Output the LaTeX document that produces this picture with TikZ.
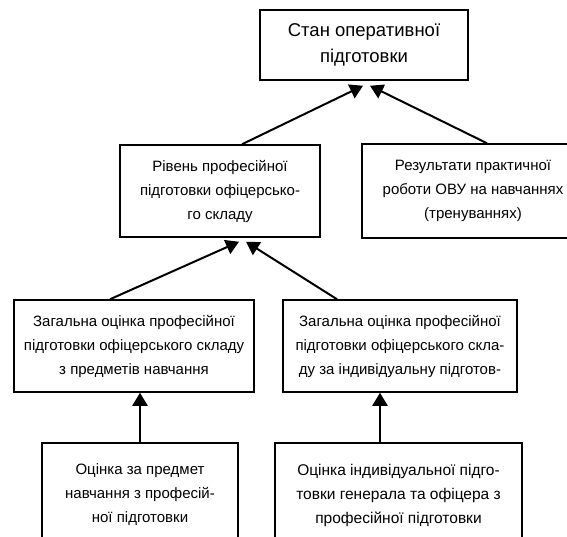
\documentclass[tikz,border=0pt]{standalone}
\usepackage{fontspec}
\setmainfont{Liberation Sans}
\usetikzlibrary{arrows.meta}
\begin{document}
\begin{tikzpicture}[x=1pt,y=-1pt,
  box/.style={draw, line width=1.5pt, align=center, inner sep=0pt, font=\fontsize{15}{24}\selectfont},
  conn/.style={line width=2pt, -{Triangle[length=13pt,width=15pt]}}]
\useasboundingbox (0,0) rectangle (567,537);
\node[box, minimum width=208pt, minimum height=70pt, font=\fontsize{18.5}{26}\selectfont] (top) at (364,45) {Стан оперативної\\підготовки};
\node[box, minimum width=200pt, minimum height=92pt] (midL) at (220,191) {Рівень професійної\\підготовки офіцерсько-\\го складу};
\node[box, minimum width=222pt, minimum height=94pt] (midR) at (473,191) {Результати практичної\\роботи ОВУ на навчаннях\\(тренуваннях)};
\node[box, minimum width=240pt, minimum height=92pt] (rowL) at (134,346) {Загальна оцінка професійної\\підготовки офіцерського складу\\з предметів навчання};
\node[box, minimum width=234pt, minimum height=92pt] (rowR) at (400,346) {Загальна оцінка професійної\\підготовки офіцерського скла-\\ду за індивідуальну підготов-};
\node[box, minimum width=196pt, minimum height=104pt] (botL) at (140,495) {Оцінка за предмет\\навчання з професій-\\ної підготовки};
\node[box, minimum width=247pt, minimum height=104pt, font=\fontsize{15.5}{24}\selectfont] (botR) at (398.5,495) {Оцінка індивідуальної підго-\\товки генерала та офіцера з\\професійної підготовки};
\draw[conn] ([xshift=22pt]midL.north) -- ([xshift=-1pt,yshift=-5pt]top.south);
\draw[conn] ([xshift=14pt]midR.north) -- ([xshift=6pt,yshift=-5pt]top.south);
\draw[conn] ([xshift=-24pt]rowL.north) -- ([xshift=19pt,yshift=-4pt]midL.south);
\draw[conn] ([xshift=-63pt]rowR.north) -- ([xshift=26pt,yshift=-4pt]midL.south);
\draw[conn] (botL.north) -- (botL.north |- rowL.south);
\draw[conn] ([xshift=-18.5pt]botR.north) -- ([xshift=-18.5pt]botR.north |- rowR.south);
\end{tikzpicture}
\end{document}
